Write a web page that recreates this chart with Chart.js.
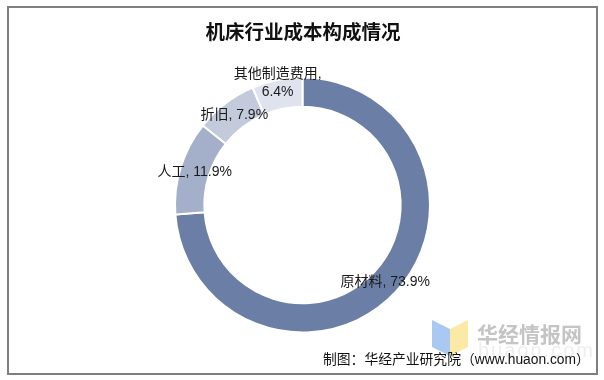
<!DOCTYPE html>
<html>
<head>
<meta charset="utf-8">
<script src="https://cdn.jsdelivr.net/npm/chart.js@4"></script>
<style>
  html, body { margin: 0; padding: 0; background: #fff; }
  #wrap { position: relative; width: 604px; height: 380px; overflow: hidden; }
  #frame { position: absolute; left: 7px; top: 6px; width: 591px; height: 369px; border: 2px solid #7f7f7f; box-sizing: border-box; }
  #c { position: absolute; left: 0; top: 0; }
  .t { position: absolute; white-space: nowrap; }
  #title { left: 0; width: 606px; top: 16px; text-align: center; font: bold 19.5px "Noto Sans CJK SC", serif; color: #111; }
  #wm1 { left: 477px; top: 318px; font: bold 21px "Noto Sans CJK SC", sans-serif; color: #c4c4c4; }
  #wm2 { left: 478px; top: 339px; font: 20px "Liberation Sans", sans-serif; color: #eeeeee; letter-spacing: 2px; }
  #foot { left: 323px; top: 348px; font: 13.8px "Liberation Sans", "Noto Sans CJK SC", sans-serif; color: #111; }
  #logo { position: absolute; left: 430px; top: 318px; }
</style>
</head>
<body>
<div id="wrap">
  <canvas id="c" width="604" height="380"></canvas>
  <svg id="logo" width="42" height="40" viewBox="0 0 42 40">
    <polygon points="2,2 20,11 20,38 2,29" fill="#a9c9f2"/>
    <polygon points="20,11 38,2 38,29 20,38" fill="#fbeaa6"/>
  </svg>
  <div class="t" id="wm1">华经情报网</div>
  <div class="t" id="wm2">huaon.com</div>
  <div class="t" id="title">机床行业成本构成情况</div>
  <div class="t" id="foot">制图：华经产业研究院（www.huaon.com）</div>
  <div id="frame"></div>
</div>
<script>
const categories = ["原材料", "人工", "折旧", "其他制造费用"];
const shares = [73.9, 11.9, 7.9, 6.4];
const sliceColors = ["#6a7ea6", "#a4b0c9", "#c2cadc", "#dfe3ee"];

function labelLines(i) {
  if (i === 3) return [categories[i] + ",", shares[i].toFixed(1) + "%"];
  return [categories[i] + ", " + shares[i].toFixed(1) + "%"];
}
const labelRadialShift = [0, 0, 0, 12];

const labelPlugin = {
  id: "ringLabels",
  afterDatasetsDraw(chart) {
    const ctx = chart.ctx;
    const meta = chart.getDatasetMeta(0);
    ctx.save();
    ctx.font = '14px "Liberation Sans", "Noto Sans CJK SC", sans-serif';
    ctx.fillStyle = "#1a1a1a";
    ctx.textAlign = "center";
    ctx.textBaseline = "middle";
    meta.data.forEach((arc, i) => {
      const p = arc.getProps(["x", "y", "startAngle", "endAngle", "innerRadius", "outerRadius"], true);
      const mid = (p.startAngle + p.endAngle) / 2;
      const r = (p.innerRadius + p.outerRadius) / 2 + labelRadialShift[i];
      const cx = p.x + Math.cos(mid) * r;
      const cy = p.y + Math.sin(mid) * r;
      const lines = labelLines(i);
      const lh = 18;
      lines.forEach((ln, k) => {
        ctx.fillText(ln, cx, cy + (k - (lines.length - 1) / 2) * lh);
      });
    });
    ctx.restore();
  }
};

new Chart(document.getElementById("c"), {
  type: "doughnut",
  data: {
    labels: categories,
    datasets: [{
      data: shares,
      backgroundColor: sliceColors,
      borderColor: "#ffffff",
      borderWidth: 2,
      hoverOffset: 0
    }]
  },
  options: {
    responsive: false,
    animation: false,
    cutout: "77%",
    radius: 127.5,
    layout: { padding: { top: 78, bottom: 48, left: 1, right: 0 } },
    plugins: {
      legend: { display: false },
      tooltip: { enabled: false },
      title: { display: false }
    }
  },
  plugins: [labelPlugin]
});
</script>
</body>
</html>
